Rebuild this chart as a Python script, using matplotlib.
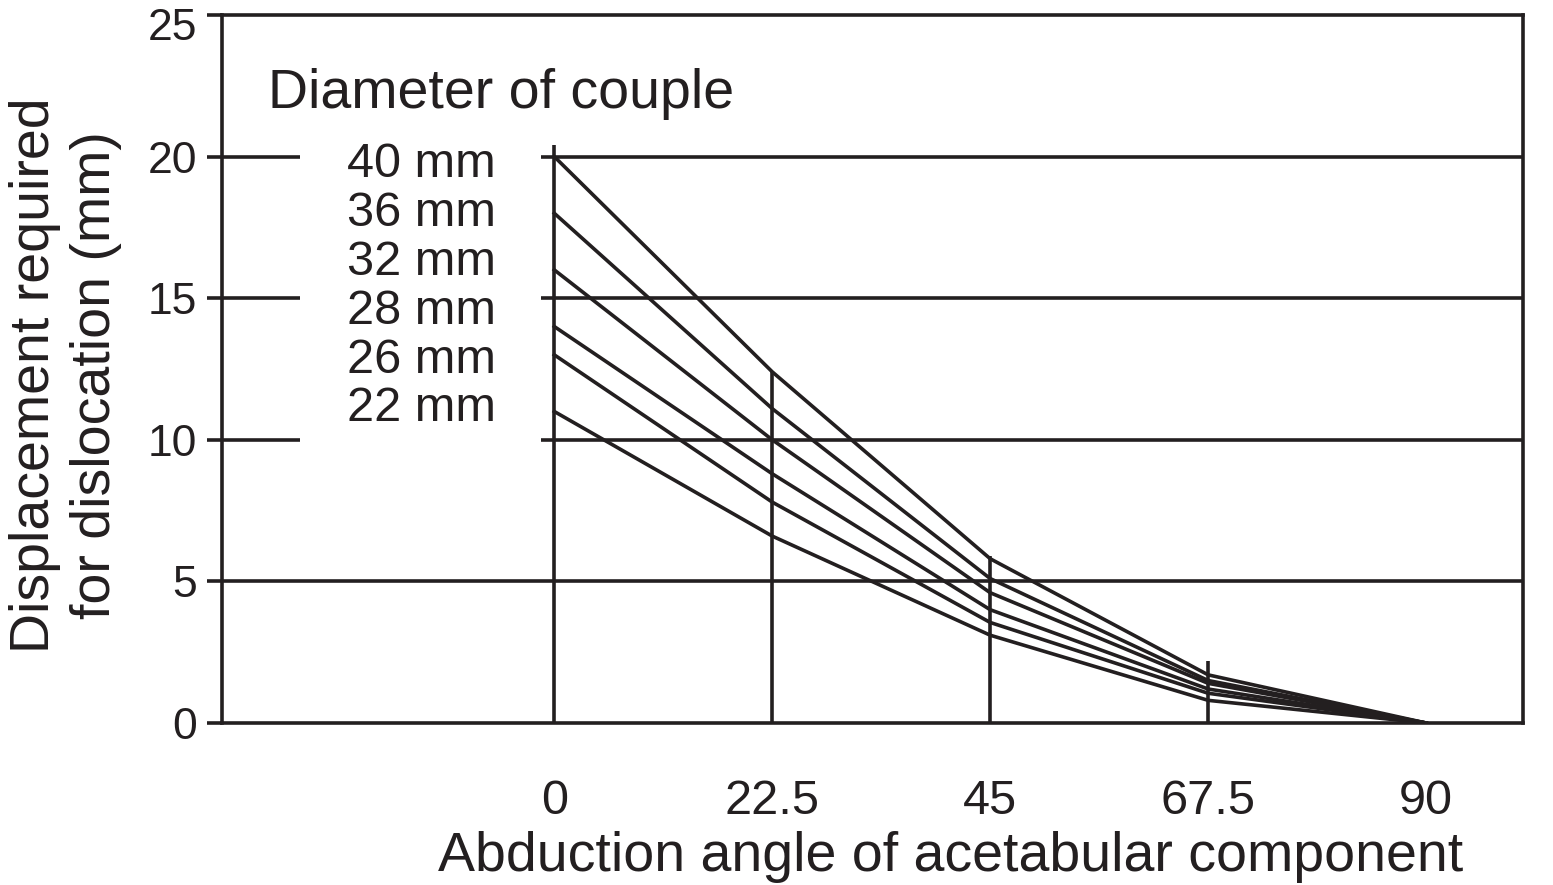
import matplotlib
matplotlib.use("Agg")
import matplotlib.pyplot as plt
from matplotlib.transforms import ScaledTranslation

plt.rcParams['font.family'] = ['Liberation Sans', 'DejaVu Sans']

# ---- data ----
angles = [0, 22.5, 45, 67.5, 90]
diameters = ['40 mm', '36 mm', '32 mm', '28 mm', '26 mm', '22 mm']
disp_40 = [20.0, 12.4, 5.8, 1.7, 0.0]
disp_36 = [18.0, 11.1, 5.1, 1.5, 0.0]
disp_32 = [16.0, 10.0, 4.6, 1.4, 0.0]
disp_28 = [14.0, 8.8, 4.0, 1.2, 0.0]
disp_26 = [13.0, 7.8, 3.55, 1.05, 0.0]
disp_22 = [11.0, 6.6, 3.1, 0.8, 0.0]
series = [disp_40, disp_36, disp_32, disp_28, disp_26, disp_22]
guide_tops = [20.4, 12.4, 5.9, 2.2]          # vertical guide lines at 0..67.5
y_ticks = [0, 5, 10, 15, 20, 25]
x_tick_labels = ['0', '22.5', '45', '67.5', '90']

INK = '#231f20'
LW = 2.6

fig = plt.figure(figsize=(15.53, 8.85), dpi=100)
ax = fig.add_axes([222/1553, 1-723/885, 1301/1553, 708/885])
ax.set_xlim(-34.3, 100)
ax.set_ylim(0, 25)

# gridlines (broken where the size labels sit)
gap = (-26.2, -1.4)
for y in y_ticks[1:-1]:
    if y >= 10:
        ax.plot([ax.get_xlim()[0], gap[0]], [y, y], color=INK, lw=LW, solid_capstyle='butt')
        ax.plot([gap[1], ax.get_xlim()[1]], [y, y], color=INK, lw=LW, solid_capstyle='butt')
    else:
        ax.axhline(y, color=INK, lw=LW)

# vertical guide lines
for a, top in zip(angles, guide_tops):
    ax.plot([a, a], [0, top], color=INK, lw=LW, solid_capstyle='butt')

# data lines
for s in series:
    ax.plot(angles, s, color=INK, lw=LW, solid_joinstyle='miter')

for sp in ax.spines.values():
    sp.set_linewidth(LW)
    sp.set_color(INK)

ax.set_yticks(y_ticks)
ax.set_yticklabels([str(v) for v in y_ticks])
ax.tick_params(axis='y', direction='out', length=11, width=LW, color=INK,
               pad=7, labelsize=32, labelcolor=INK)
ax.set_xticks(angles)
ax.set_xticklabels(x_tick_labels)
ax.tick_params(axis='x', length=0, pad=40, labelsize=35, labelcolor=INK)

# nudge the top y label down a little, as in the reference
top_lab = ax.get_yticklabels()[-1]
top_lab.set_transform(top_lab.get_transform() +
                      ScaledTranslation(0, -0.09, fig.dpi_scale_trans))

ax.set_xlabel('Abduction angle of acetabular component', fontsize=40, color=INK)
ax.xaxis.set_label_coords(0.56, -0.152)
ax.set_ylabel('Displacement required\nfor dislocation (mm)', fontsize=40,
              color=INK, linespacing=1.22, va='center')
ax.yaxis.set_label_coords(-0.12, 0.4915)

ax.text(0.0354, 0.8686, 'Diameter of couple', transform=ax.transAxes,
        fontsize=40, color=INK, ha='left', va='baseline')
base = 0.7705
step = 0.0689
for i, lab in enumerate(diameters):
    ax.text(0.2106, base - i*step, lab, transform=ax.transAxes,
            fontsize=35, color=INK, ha='right', va='baseline')

fig.savefig('out.png', dpi=100)
